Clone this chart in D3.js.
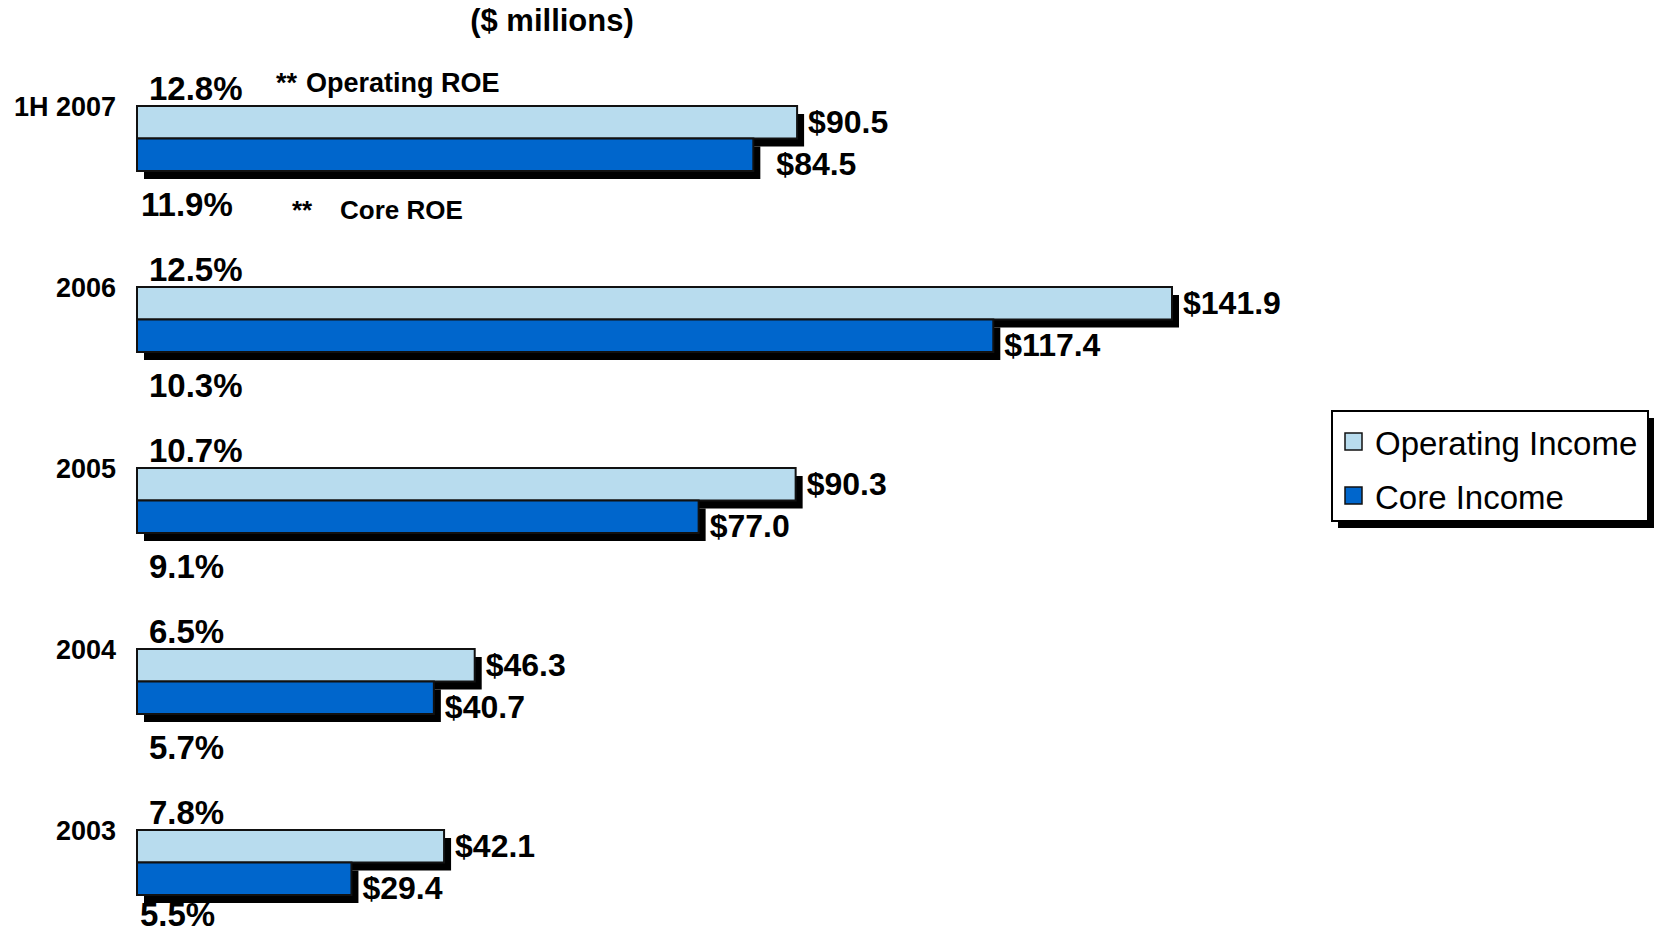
<!DOCTYPE html>
<html>
<head>
<meta charset="utf-8">
<script src="https://d3js.org/d3.v7.min.js"></script>
<style>
  html, body { margin: 0; padding: 0; background: #ffffff; }
  svg { display: block; font-family: "Liberation Sans", Arial, Helvetica, sans-serif; }
</style>
</head>
<body>
<div id="chart"></div>
<script>
// Income by period, $ millions
const categories = ["1H 2007", "2006", "2005", "2004", "2003"];
const seriesNames = ["Operating Income", "Core Income"];
const operatingIncome = [90.5, 141.9, 90.3, 46.3, 42.1];
const coreIncome = [84.5, 117.4, 77.0, 40.7, 29.4];
// Return on equity shown above / below each pair of bars
const operatingROE = [12.8, 12.5, 10.7, 6.5, 7.8];
const coreROE = [11.9, 10.3, 9.1, 5.7, 5.5];

const W = 1655, H = 928;
const colors = { "Operating Income": "#B8DCEE", "Core Income": "#0066CC" };
const shadow = { dx: 7, dy: 8 };

const svg = d3.select("#chart").append("svg")
  .attr("width", W).attr("height", H)
  .attr("viewBox", `0 0 ${W} ${H}`);

svg.append("rect").attr("width", W).attr("height", H).attr("fill", "#fff");

// Scales
const x = d3.scaleLinear().domain([0, 141.9]).range([137, 1172]);
const y = d3.scaleBand().domain(categories).range([106, 106 + 181 * categories.length]).padding(0).align(0);
const inner = d3.scaleBand().domain(seriesNames).range([0, 65]).padding(0);

const rows = categories.map((c, i) => ({
  cat: c,
  values: [
    { name: seriesNames[0], value: operatingIncome[i] },
    { name: seriesNames[1], value: coreIncome[i] }
  ],
  opROE: operatingROE[i],
  coreROE: coreROE[i]
}));

// Title
svg.append("text")
  .attr("x", 552).attr("y", 31)
  .attr("text-anchor", "middle")
  .attr("font-size", 31).attr("font-weight", "bold")
  .text("($ millions)");

const g = svg.selectAll("g.group").data(rows).join("g")
  .attr("class", "group")
  .attr("transform", d => `translate(0,${y(d.cat)})`);

// Drop shadows first, then the bars over them
g.selectAll("rect.shadow").data(d => d.values).join("rect")
  .attr("class", "shadow")
  .attr("x", x(0) + shadow.dx)
  .attr("y", d => inner(d.name) + shadow.dy)
  .attr("width", d => x(d.value) - x(0))
  .attr("height", inner.bandwidth())
  .attr("fill", "#000");

g.selectAll("rect.bar").data(d => d.values).join("rect")
  .attr("class", "bar")
  .attr("x", x(0))
  .attr("y", d => inner(d.name))
  .attr("width", d => x(d.value) - x(0))
  .attr("height", inner.bandwidth())
  .attr("fill", d => colors[d.name])
  .attr("stroke", "#111")
  .attr("stroke-width", 2);

// Value labels at the bar ends
const valueNudge = { "1H 2007|Core Income": 12 };
g.selectAll("text.value").data(d => d.values.map(v => ({ ...v, cat: d.cat }))).join("text")
  .attr("class", "value")
  .attr("x", d => x(d.value) + 11 + (valueNudge[d.cat + "|" + d.name] || 0))
  .attr("y", d => inner(d.name) + (d.name === seriesNames[0] ? 27 : 36))
  .attr("font-size", 32).attr("font-weight", "bold")
  .attr("fill", "#000")
  .text(d => "$" + d.value.toFixed(1));

// Category labels
g.append("text")
  .attr("x", 116).attr("y", 10)
  .attr("text-anchor", "end")
  .attr("font-size", 27).attr("font-weight", "bold")
  .text(d => d.cat);

// ROE labels
g.append("text")
  .attr("x", 149).attr("y", -6)
  .attr("font-size", 33).attr("font-weight", "bold")
  .text(d => d.opROE.toFixed(1) + "%");

const roeNudge = { "1H 2007": { dx: -8, dy: 0 }, "2003": { dx: -9, dy: -14 } };
g.append("text")
  .attr("x", d => 149 + (roeNudge[d.cat] ? roeNudge[d.cat].dx : 0))
  .attr("y", d => inner.range()[1] + 45 + (roeNudge[d.cat] ? roeNudge[d.cat].dy : 0))
  .attr("font-size", 33).attr("font-weight", "bold")
  .text(d => d.coreROE.toFixed(1) + "%");

// ROE key notes beside the first group
const first = g.filter((d, i) => i === 0);
const opNote = first.append("text")
  .attr("y", -14)
  .attr("font-size", 27).attr("font-weight", "bold");
opNote.append("tspan").attr("x", 276).text("**");
opNote.append("tspan").attr("x", 306).text("Operating ROE");
const coreNote = first.append("text")
  .attr("y", 113)
  .attr("font-size", 26).attr("font-weight", "bold");
coreNote.append("tspan").attr("x", 292).text("**");
coreNote.append("tspan").attr("x", 340).text("Core ROE");

// Legend
const legend = svg.append("g").attr("transform", "translate(1332,411)");
legend.append("rect")
  .attr("x", 6).attr("y", 7).attr("width", 316).attr("height", 110)
  .attr("fill", "#000");
legend.append("rect")
  .attr("x", 0).attr("y", 0).attr("width", 316).attr("height", 110)
  .attr("fill", "#fff").attr("stroke", "#000").attr("stroke-width", 2);
const li = legend.selectAll("g.item").data(seriesNames).join("g")
  .attr("class", "item")
  .attr("transform", (d, i) => `translate(0,${i * 54})`);
li.append("rect")
  .attr("x", 13).attr("y", 22).attr("width", 17).attr("height", 17)
  .attr("fill", d => colors[d]).attr("stroke", "#111").attr("stroke-width", 1.5);
li.append("text")
  .attr("x", 43).attr("y", 44)
  .attr("font-size", 33)
  .attr("fill", "#000")
  .text(d => d);
</script>
</body>
</html>
